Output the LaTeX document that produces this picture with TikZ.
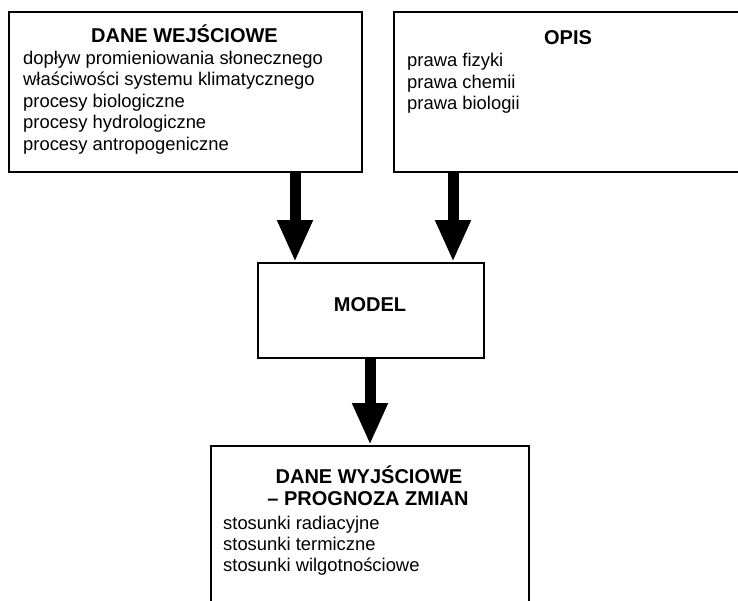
\documentclass[tikz,border=0pt]{standalone}
\usepackage{fontspec}
\setmainfont{Liberation Sans}
\usetikzlibrary{arrows.meta}
\tikzset{
  box/.style={draw=black, line width=2pt, fill=white, rectangle, inner sep=0pt, anchor=north west},
  head/.style={font=\fontsize{20}{22}\selectfont\bfseries, inner sep=0pt, anchor=base},
  txt/.style={font=\fontsize{18.4}{21.6}\selectfont, inner sep=0pt, anchor=base west},
  bigarrow/.style={line width=11pt, -{Triangle[width=33pt,length=42pt]}}
}
\begin{document}
\begin{tikzpicture}[x=1pt,y=1pt]
\useasboundingbox (0,0) rectangle (738,-600);
\clip (0,0) rectangle (738,-600);
% boxes
\node[box, minimum width=353pt, minimum height=160pt] (in) at (8,-11) {};
\node[box, minimum width=352pt, minimum height=160pt] (opis) at (393,-11) {};
\node[box, minimum width=226pt, minimum height=95pt] (model) at (257,-262) {};
\node[box, minimum width=318pt, minimum height=170pt] (out) at (210,-445) {};
% texts
\node[head] (inh) at (184.5,-42) {DANE WEJŚCIOWE};
\foreach \t [count=\i] in {dopływ promieniowania słonecznego,właściwości systemu klimatycznego,procesy biologiczne,procesy hydrologiczne,procesy antropogeniczne}
  \node[txt] (int\i) at (23,{-64.5-21.4*(\i-1)}) {\t};
\node[head] (opish) at (568,-44.5) {OPIS};
\foreach \t [count=\i] in {prawa fizyki,prawa chemii,prawa biologii}
  \node[txt] (opist\i) at (407,{-66.5-21.7*(\i-1)}) {\t};
\node[head] (modelh) at (370,-311.5) {MODEL};
\node[head] (outh1) at (369,-483) {DANE WYJŚCIOWE};
\node[head] (outh2) at (368,-505) {– PROGNOZA ZMIAN};
\foreach \t [count=\i] in {stosunki radiacyjne,stosunki termiczne,stosunki wilgotnościowe}
  \node[txt] (outt\i) at (223,{-529-21.4*(\i-1)}) {\t};
% arrows
\coordinate (a1) at (295,0);
\coordinate (a2) at (453,0);
\coordinate (a3) at (370,0);
\draw[bigarrow] (in.south -| a1) -- (model.north -| a1);
\draw[bigarrow] (opis.south -| a2) -- (model.north -| a2);
\draw[bigarrow] (model.south -| a3) -- (out.north -| a3);
\end{tikzpicture}
\end{document}
